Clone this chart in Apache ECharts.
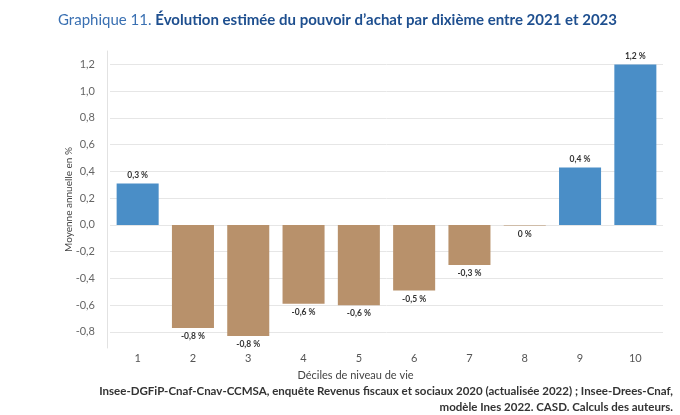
<!DOCTYPE html>
<html>
<head>
<meta charset="utf-8">
<script src="https://cdn.jsdelivr.net/npm/echarts@6/dist/echarts.min.js"></script>
<style>
html,body{margin:0;padding:0;background:#fff;}
#chart{width:680px;height:415px;}
</style>
</head>
<body>
<div id="chart"></div>
<script>
const categories = ['1','2','3','4','5','6','7','8','9','10'];
const values = [0.31, -0.77, -0.83, -0.59, -0.60, -0.49, -0.30, -0.005, 0.43, 1.20];
const valueLabels = ['0,3 %','-0,8 %','-0,8 %','-0,6 %','-0,6 %','-0,5 %','-0,3 %','0 %','0,4 %','1,2 %'];
const yTicks = [-0.8, -0.6, -0.4, -0.2, 0, 0.2, 0.4, 0.6, 0.8, 1.0, 1.2];

const BLUE = '#4a8ec7';
const BROWN = '#b8916b';
const FONT = 'Lato';

const chart = echarts.init(document.getElementById('chart'));
chart.setOption({
  animation: false,
  textStyle: { fontFamily: FONT },
  title: [
    {
      text: '{a|Graphique 11. }{b|Évolution estimée du pouvoir d’achat par dixième entre 2021 et 2023}',
      left: 53, top: 8,
      textStyle: {
        rich: {
          a: { fontFamily: FONT, fontSize: 15, color: '#3a70b2', fontWeight: 'normal' },
          b: { fontFamily: FONT, fontSize: 15, color: '#1e4f8f', fontWeight: 'bold' }
        }
      }
    },
    {
      text: 'Insee-DGFiP-Cnaf-Cnav-CCMSA, enquête Revenus fiscaux et sociaux 2020 (actualisée 2022) ; Insee-Drees-Cnaf,\nmodèle Ines 2022. CASD. Calculs des auteurs.',
      left: 668, top: 378,
      textAlign: 'right',
      textStyle: { fontFamily: FONT, fontSize: 11.5, fontWeight: 'bold', color: '#333', lineHeight: 16 }
    }
  ],
  grid: { left: 110, right: 17, top: 51, bottom: 67, containLabel: false },
  xAxis: {
    type: 'category',
    data: categories,
    axisLine: { show: false },
    axisTick: { show: false },
    axisLabel: { color: '#555', fontSize: 11, margin: 5 },
    name: 'Déciles de niveau de vie',
    nameLocation: 'middle',
    nameGap: 22,
    nameTextStyle: { color: '#444', fontSize: 11, padding: [0, 62, 0, 0] }
  },
  yAxis: {
    type: 'value',
    min: -0.92,
    max: 1.3,
    offset: 3,
    axisLine: { show: true, lineStyle: { color: '#e2e2e2', width: 1 } },
    axisTick: { show: false, customValues: yTicks },
    axisLabel: {
      customValues: yTicks,
      color: '#666', fontSize: 11, margin: 12,
      formatter: v => v.toFixed(1).replace('.', ',')
    },
    splitLine: { show: true, lineStyle: { color: '#e6e6e6', width: 1 } },
    name: 'Moyenne annuelle en %',
    nameLocation: 'middle',
    nameGap: 33,
    nameMoveOverlap: false,
    nameTextStyle: { color: '#444', fontSize: 10, padding: [0, 0, 0, 0] }
  },
  series: [{
    type: 'bar',
    barCategoryGap: '24%',
    data: values.map((v, i) => ({
      value: v,
      itemStyle: { color: v > 0 ? BLUE : BROWN },
      label: {
        show: true,
        position: v > 0 ? 'top' : 'bottom',
        distance: 4,
        formatter: valueLabels[i],
        fontSize: 8.5,
        fontWeight: 'bold',
        color: '#333'
      }
    }))
  }]
});
</script>
</body>
</html>
